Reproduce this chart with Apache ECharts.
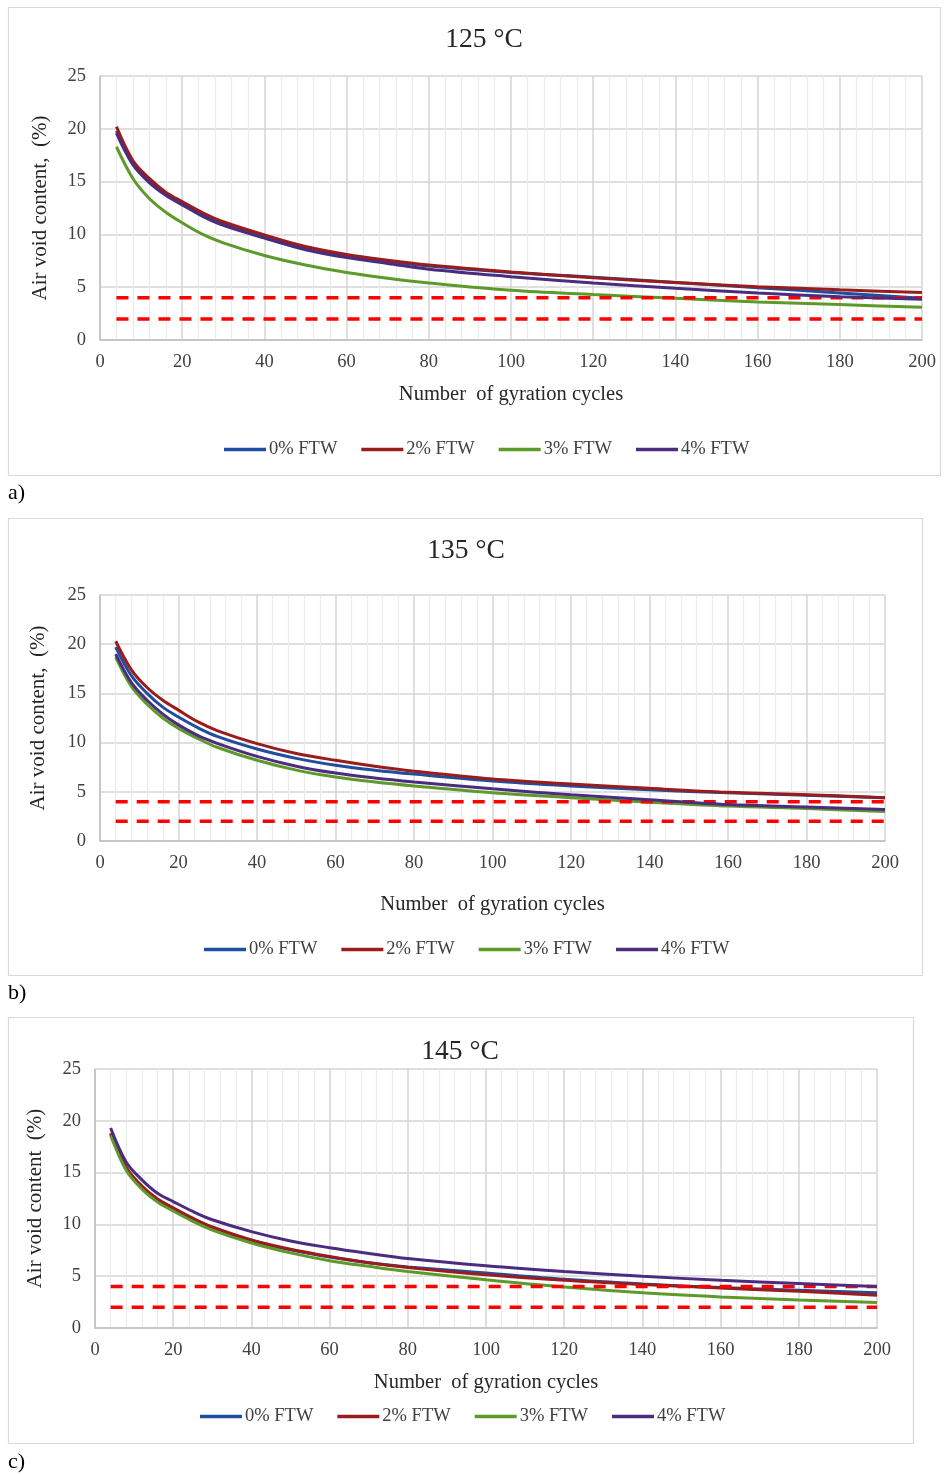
<!DOCTYPE html>
<html><head><meta charset="utf-8">
<script src="https://cdn.jsdelivr.net/npm/echarts@6/dist/echarts.min.js"></script>
<style>html,body{margin:0;padding:0;background:#fff}#c{width:949px;height:1475px}</style>
</head><body><div id="c"></div>
<script>
// Gyration cycles (x values of the readings)
const cycles = [4, 8, 12, 16, 20, 25, 30, 40, 50, 60, 70, 80, 100, 120, 140, 160, 180, 200];
const seriesNames = ['0% FTW', '2% FTW', '3% FTW', '4% FTW'];
const panelTitles = ['125 °C', '135 °C', '145 °C'];
const panelTags = ['a)', 'b)', 'c)'];
const yNames = ['Air void content,  (%)', 'Air void content,  (%)', 'Air void content  (%)'];
const xName = 'Number  of gyration cycles';
const limitLines = [4, 2];
const limitRange = [4, 200];

// 125 °C
const a_ftw0 = [19.8, 16.8, 15.1, 13.8, 12.9, 11.9, 11.05, 9.8, 8.75, 8.0, 7.45, 7.0, 6.4, 5.95, 5.45, 4.95, 4.45, 3.95];
const a_ftw2 = [20.2, 17.0, 15.3, 14.0, 13.1, 12.05, 11.2, 9.95, 8.85, 8.1, 7.55, 7.1, 6.45, 5.9, 5.45, 5.05, 4.75, 4.5];
const a_ftw3 = [18.3, 15.3, 13.4, 12.1, 11.1, 10.0, 9.2, 8.0, 7.1, 6.4, 5.85, 5.4, 4.7, 4.3, 3.95, 3.6, 3.35, 3.1];
const a_ftw4 = [19.6, 16.6, 14.9, 13.7, 12.8, 11.7, 10.85, 9.65, 8.55, 7.8, 7.25, 6.7, 6.0, 5.4, 4.9, 4.45, 4.1, 3.85];
// 135 °C
const b_ftw0 = [19.7, 16.8, 15.0, 13.6, 12.6, 11.5, 10.6, 9.35, 8.4, 7.7, 7.2, 6.8, 6.1, 5.6, 5.2, 4.9, 4.65, 4.4];
const b_ftw2 = [20.3, 17.4, 15.6, 14.3, 13.3, 12.1, 11.2, 9.9, 8.9, 8.2, 7.6, 7.1, 6.3, 5.8, 5.35, 4.95, 4.7, 4.4];
const b_ftw3 = [18.7, 15.7, 13.9, 12.5, 11.45, 10.4, 9.5, 8.2, 7.2, 6.5, 6.0, 5.6, 4.9, 4.4, 3.95, 3.55, 3.3, 3.0];
const b_ftw4 = [19.0, 16.1, 14.3, 12.9, 11.8, 10.7, 9.9, 8.6, 7.6, 6.9, 6.4, 6.0, 5.3, 4.7, 4.2, 3.7, 3.45, 3.2];
// 145 °C
const c_ftw0 = [18.7, 15.4, 13.6, 12.35, 11.5, 10.5, 9.7, 8.45, 7.55, 6.85, 6.3, 5.9, 5.3, 4.7, 4.25, 3.9, 3.65, 3.4];
const c_ftw2 = [18.8, 15.5, 13.7, 12.45, 11.6, 10.6, 9.75, 8.5, 7.6, 6.9, 6.3, 5.85, 5.15, 4.6, 4.2, 3.85, 3.55, 3.15];
const c_ftw3 = [18.6, 15.2, 13.4, 12.15, 11.3, 10.3, 9.45, 8.2, 7.25, 6.5, 5.95, 5.45, 4.65, 3.95, 3.4, 3.0, 2.7, 2.45];
const c_ftw4 = [19.3, 16.0, 14.3, 13.0, 12.2, 11.25, 10.45, 9.3, 8.4, 7.75, 7.2, 6.7, 6.0, 5.45, 5.0, 4.6, 4.3, 4.0];

const panelData = [
  [a_ftw0, a_ftw2, a_ftw3, a_ftw4],
  [b_ftw0, b_ftw2, b_ftw3, b_ftw4],
  [c_ftw0, c_ftw2, c_ftw3, c_ftw4]
];

const colors = ['#1F4E9E', '#9B1C1C', '#5E9A2A', '#4B2C7F'];
const FONT = '"Liberation Serif", "Times New Roman", serif';

const layout = [
  {grid: {left: 100, top: 76, width: 822, height: 264}, box: [8, 7, 932, 468], title: [484, 40], xGap: 44, yGap: 49, legend: {left: 219, top: 435}, tag: 493},
  {grid: {left: 100, top: 595, width: 785, height: 246}, box: [8, 518, 914, 457], title: [466, 551], xGap: 53, yGap: 51, legend: {left: 199, top: 935}, tag: 993},
  {grid: {left: 95, top: 1069, width: 782, height: 259}, box: [8, 1017, 905, 426], title: [460, 1052], xGap: 44, yGap: 49, legend: {left: 195, top: 1402}, tag: 1462}
];

const grids = [], xAxes = [], yAxes = [], series = [], legends = [], graphics = [];
layout.forEach((L, p) => {
  grids.push(L.grid);
  xAxes.push({
    type: 'value', gridIndex: p, min: 0, max: 200, interval: 20,
    name: xName, nameLocation: 'middle', nameGap: L.xGap,
    nameTextStyle: {fontFamily: FONT, fontSize: 20.5, color: '#262626'},
    axisLine: {show: true, lineStyle: {color: '#BFBFBF', width: 1.5}},
    axisTick: {show: false},
    axisLabel: {fontFamily: FONT, fontSize: 18.5, color: '#404040', margin: 13},
    splitLine: {show: true, lineStyle: {color: '#D4D4D4', width: 1.5}},
    minorTick: {show: false, splitNumber: 5},
    minorSplitLine: {show: true, lineStyle: {color: '#EBEBEB', width: 1.2}}
  });
  yAxes.push({
    type: 'value', gridIndex: p, min: 0, max: 25, interval: 5,
    name: yNames[p], nameLocation: 'middle', nameGap: L.yGap,
    nameTextStyle: {fontFamily: FONT, fontSize: 21, color: '#262626'},
    axisLine: {show: true, lineStyle: {color: '#BFBFBF', width: 1.5}},
    axisTick: {show: false},
    axisLabel: {fontFamily: FONT, fontSize: 18.5, color: '#404040', margin: 14},
    splitLine: {show: true, lineStyle: {color: '#D4D4D4', width: 1.5}}
  });
  limitLines.forEach(v => {
    series.push({
      type: 'line', name: 'limit' + v, xAxisIndex: p, yAxisIndex: p,
      data: limitRange.map(x => [x, v]), showSymbol: false, silent: true,
      lineStyle: {color: '#FF0000', width: 3.5, type: [12, 9]}, z: 3
    });
  });
  panelData[p].forEach((arr, i) => {
    series.push({
      type: 'line', name: seriesNames[i], xAxisIndex: p, yAxisIndex: p,
      data: cycles.map((x, k) => [x, arr[k]]), showSymbol: false, smooth: 0.35,
      color: colors[i], lineStyle: {color: colors[i], width: 3}, z: 2 + (i === 3 ? 1 : 0)
    });
  });
  legends.push({
    data: seriesNames, left: L.legend.left, top: L.legend.top, orient: 'horizontal',
    icon: 'rect', itemWidth: 42, itemHeight: 3.5, itemGap: 24,
    textStyle: {fontFamily: FONT, fontSize: 18.5, color: '#404040', padding: [0, 0, 0, -2]}
  });
  graphics.push({
    type: 'rect', shape: {x: L.box[0] + 0.5, y: L.box[1] + 0.5, width: L.box[2], height: L.box[3]},
    style: {fill: 'none', stroke: '#D9D9D9', lineWidth: 1.2}, silent: true, z: -10
  });
  graphics.push({
    type: 'text', x: L.title[0], y: L.title[1],
    style: {text: panelTitles[p], fontFamily: FONT, fontSize: 27.5, fill: '#262626', textAlign: 'center', textVerticalAlign: 'middle'}
  });
  graphics.push({
    type: 'text', x: 8, y: L.tag,
    style: {text: panelTags[p], fontFamily: FONT, fontSize: 22, fill: '#000', textAlign: 'left', textVerticalAlign: 'middle'}
  });
});

const chart = echarts.init(document.getElementById('c'), null, {renderer: 'canvas'});
chart.setOption({
  animation: false,
  backgroundColor: '#fff',
  grid: grids, xAxis: xAxes, yAxis: yAxes, series: series, legend: legends,
  graphic: graphics
});
</script></body></html>
